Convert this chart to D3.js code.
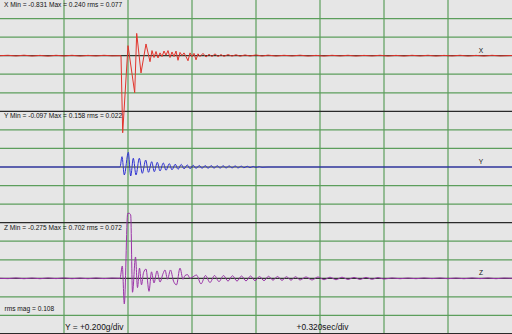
<!DOCTYPE html>
<html><head><meta charset="utf-8">
<script src="https://cdn.jsdelivr.net/npm/d3@7"></script>
<style>html,body{margin:0;padding:0;background:#e6e6e6;}svg{display:block;}</style>
</head><body>
<script>
// ---- data (time in s, acceleration in g) ----
const xTrace = [[0,0],[0.04,0.004],[0.08,-0.003],[0.12,0.005],[0.16,-0.004],[0.2,0.003],[0.24,-0.005],[0.28,0.004],[0.32,-0.003],[0.36,0.004],[0.4,-0.004],[0.44,0.003],[0.48,-0.003],[0.52,0.004],[0.56,-0.002],[0.605,0],
[0.6135,-0.831],[0.64,0.108],[0.6735,-0.399],[0.6835,0.240],[0.705,-0.186],[0.73,0.126],[0.75,-0.065],[0.76,0.055],[0.77,-0.02],[0.78,0.045],[0.79,-0.025],[0.8,0.03],[0.81,-0.01],[0.82,0.05],[0.83,0.005],[0.84,0.055],[0.85,-0.02],[0.86,0.04],[0.87,-0.01],[0.88,0.05],[0.89,-0.05],[0.9,0.035],[0.91,0],[0.92,0.03],[0.93,-0.01],[0.94,-0.055],[0.95,0.03],[0.96,-0.01],[0.97,0.025],[0.98,-0.045],[0.99,0.02],[1.0,-0.01],[1.015,0.025],[1.03,-0.015],[1.045,0.015],[1.06,-0.01],[1.075,0.02],[1.09,-0.01],[1.105,0.012],[1.12,-0.008],[1.14,0.012],[1.16,-0.005],[1.18,0.01],[1.2,-0.006],[1.225,0.008],[1.25,-0.004],[1.28,0.008],[1.31,-0.004],[1.34,0.006],[1.38,-0.004],[1.42,0.004],[1.46,-0.003],[1.5,0.005],[1.54,-0.004],[1.58,0.003],[1.62,-0.004],[1.66,0.004],[1.7,-0.003],[1.74,0.004],[1.78,-0.004],[1.82,0.003],[1.86,-0.003],[1.9,0.004],[1.94,-0.004],[1.98,0.003],[2.02,-0.004],[2.06,0.004],[2.1,-0.003],[2.14,0.004],[2.18,-0.004],[2.22,0.003],[2.26,-0.003],[2.3,0.004],[2.34,-0.004],[2.38,0.003],[2.42,-0.004],[2.46,0.004],[2.5,-0.003],[2.56,0.002]];

const yTrace = [[0,0],[0.6,0],[0.61,0.111],[0.6215,-0.086],[0.6415,0.158],[0.6535,-0.097],[0.6665,0.094],[0.68,-0.086],[0.6965,0.094],[0.7115,-0.068],[0.7285,0.075],[0.7425,-0.057],[0.7585,0.057],[0.7715,-0.051],[0.7865,0.051],[0.8,-0.043],[0.8165,0.043],[0.83,-0.036],[0.8465,0.036],[0.86,-0.03],[0.8765,0.03],[0.89,-0.025],[0.9065,0.028],[0.92,-0.02],[0.9365,0.022],[0.95,-0.018],[0.9665,0.018],[0.98,-0.015],[0.9965,0.016],[1.01,-0.014],[1.0265,0.015],[1.04,-0.014],[1.0565,0.015],[1.07,-0.013],[1.0865,0.014],[1.1,-0.012],[1.1165,0.013],[1.13,-0.011],[1.1465,0.012],[1.16,-0.01],[1.1765,0.011],[1.19,-0.01],[1.2065,0.009],[1.22,-0.008],[1.2365,0.008],[1.25,-0.007],[1.2665,0.006],[1.28,-0.005],[1.2965,0.004],[1.31,-0.003],[1.34,0],[2.56,0]];

const zTrace = [[0,0],[0.04,-0.003],[0.08,0.004],[0.12,-0.004],[0.16,0.003],[0.2,-0.004],[0.24,0.004],[0.28,-0.003],[0.32,0.004],[0.36,-0.004],[0.4,0.003],[0.44,-0.004],[0.48,0.004],[0.52,-0.003],[0.56,0.003],[0.6,0],
[0.6115,0.133],[0.6215,-0.275],[0.6385,0.700],[0.645,0.702],[0.6535,0.682],[0.6625,-0.15],[0.6775,0.23],[0.6875,-0.10],[0.6975,0.11],[0.7075,-0.07],[0.7175,0.06],[0.73,0.10],[0.745,-0.14],[0.7575,0.07],[0.77,-0.05],[0.785,0.08],[0.8,-0.04],[0.815,0.05],[0.825,0.09],[0.8375,-0.01],[0.8525,0.09],[0.8675,-0.03],[0.8825,-0.07],[0.9,0.11],[0.915,-0.01],[0.925,0.03],[0.9375,0.04],[0.95,0],[0.96,0.01],
[0.9825,0.035],[1.005,-0.06],[1.0275,0.03],[1.05,-0.045],[1.0725,0.03],[1.095,-0.035],[1.1175,0.03],[1.14,-0.03],[1.1625,0.028],[1.185,-0.03],[1.2075,0.025],[1.23,-0.028],[1.2525,0.025],[1.275,-0.025],[1.2975,0.02],[1.32,-0.025],[1.3425,0.022],[1.365,-0.02],[1.3875,0.02],[1.41,-0.022],[1.4325,0.018],[1.455,-0.02],[1.4775,0.018],[1.5,-0.018],
[1.53,0.015],[1.56,-0.018],[1.59,0.015],[1.62,-0.015],[1.65,0.012],[1.68,-0.015],[1.71,0.012],[1.74,-0.012],[1.77,0.01],[1.8,-0.012],[1.83,0.01],[1.86,-0.01],[1.89,0.008],[1.92,-0.008],[1.96,0.004],[2.0,-0.004],[2.04,0.003],[2.08,-0.004],[2.12,0.004],[2.16,-0.003],[2.2,0.004],[2.24,-0.004],[2.28,0.003],[2.32,-0.004],[2.36,0.004],[2.4,-0.003],[2.44,0.004],[2.48,-0.004],[2.52,0.003],[2.56,0]];

const channelNames = ["X","Y","Z"];
const channelStats = [[-0.831,0.240,0.077],[-0.097,0.158,0.022],[-0.275,0.702,0.072]];
const rmsMag = 0.108;
const timeGrid = [0.32,0.64,0.96,1.28,1.6,1.92,2.24];
const gGrid = [-0.4,-0.2,0.2,0.4];
const gPerDiv = 0.200, secPerDiv = 0.320;

// ---- layout ----
const W = 512, H = 334, DIV = H / 18;
const font = "'Liberation Sans', Arial, Helvetica, sans-serif";
const colors = ["#e2342c", "#2f32d2", "#9a34a8"];
const traces = [xTrace, yTrace, zTrace];

const svg = d3.select("body").append("svg").attr("width", W).attr("height", H);
svg.append("rect").attr("width", W).attr("height", H).attr("fill", "#e6e6e6");

const x = d3.scaleLinear().domain([0, 2.56]).range([0, W]);
const yScales = channelNames.map((_, i) =>
  d3.scaleLinear().domain([-0.6, 0.6]).range([(6 * i + 6) * DIV, 6 * i * DIV]));

const grid = svg.append("g");
yScales.forEach(ys => {
  gGrid.forEach(v => grid.append("line").attr("x1", 0).attr("x2", W)
    .attr("y1", ys(v)).attr("y2", ys(v)).attr("stroke", "#5c9e5c").attr("stroke-width", 1.2));
});
timeGrid.forEach(t => grid.append("line").attr("x1", x(t)).attr("x2", x(t))
  .attr("y1", 0).attr("y2", H).attr("stroke", "#5c9e5c").attr("stroke-width", 1.2));
yScales.forEach((ys, i) => {
  const yy = Math.min(ys(-0.6), H - 0.5);
  grid.append("line").attr("x1", 0).attr("x2", W).attr("y1", yy).attr("y2", yy)
    .attr("stroke", "#2a2a2a").attr("stroke-width", 1.2);
});
yScales.forEach(ys => grid.append("line").attr("x1", 0).attr("x2", W)
  .attr("y1", ys(0)).attr("y2", ys(0)).attr("stroke", "#2e3a2e").attr("stroke-width", 1.2));

traces.forEach((tr, i) => {
  const line = d3.line().x(d => x(d[0])).y(d => yScales[i](d[1]))
    .curve(i === 0 ? d3.curveLinear : d3.curveMonotoneX);
  svg.append("path").datum(tr).attr("d", line).attr("fill", "none")
    .attr("stroke", colors[i]).attr("stroke-width", 1).attr("stroke-linejoin", "round");
});

const fmt = v => v.toFixed(3);
channelNames.forEach((n, i) => {
  const s = channelStats[i];
  svg.append("text").attr("x", 4).attr("y", yScales[i](0.6) + 7)
    .attr("font-family", font).attr("font-size", 6.6).attr("fill", "#111")
    .text(`${n} Min = ${fmt(s[0])} Max = ${fmt(s[1])} rms = ${fmt(s[2])}`);
  svg.append("text").attr("x", 481).attr("y", yScales[i](0) - 3).attr("text-anchor", "middle")
    .attr("font-family", font).attr("font-size", 6.6).attr("fill", "#111").text(n);
});
svg.append("text").attr("x", 4.5).attr("y", yScales[2](0) + 33)
  .attr("font-family", font).attr("font-size", 6.6).attr("fill", "#111")
  .text(`rms mag = ${fmt(rmsMag)}`);
svg.append("text").attr("x", x(secPerDiv) + 1).attr("y", H - 4)
  .attr("font-family", font).attr("font-size", 8.4).attr("fill", "#111")
  .text(`Y = +${fmt(gPerDiv)}g/div`);
svg.append("text").attr("x", 296.5).attr("y", H - 4)
  .attr("font-family", font).attr("font-size", 8.4).attr("fill", "#111")
  .text(`+${fmt(secPerDiv)}sec/div`);
</script>
</body></html>
